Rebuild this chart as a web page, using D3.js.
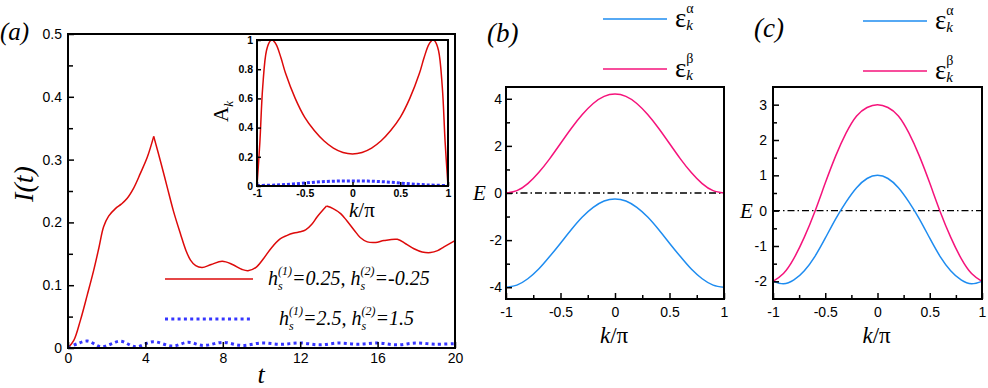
<!DOCTYPE html>
<html>
<head>
<meta charset="utf-8">
<script src="https://cdn.jsdelivr.net/npm/d3@7"></script>
<style>
body { margin: 0; background: #fff; }
</style>
</head>
<body>
<div id="chart"></div>
<script>
// (a) I(t), weak fields (red) and strong fields (blue dots)
var tWeak = [0,0.3,0.64,1.0,1.33,1.6,1.84,2.1,2.45,2.75,3.05,3.4,3.74,4.1,4.43,4.8,5.12,5.45,5.81,6.1,6.33,6.6,6.93,7.4,7.97,8.5,9.0,9.3,9.7,10.12,10.5,10.98,11.3,11.67,12.0,12.28,12.6,12.88,13.36,13.7,14.09,14.4,14.78,15.1,15.47,15.9,16.33,17.02,17.45,17.88,18.3,18.74,19.1,19.43,20];
var iWeak = [0,0.012,0.044,0.085,0.124,0.16,0.193,0.21,0.222,0.229,0.238,0.255,0.278,0.304,0.337,0.295,0.257,0.218,0.182,0.155,0.14,0.131,0.128,0.133,0.138,0.133,0.125,0.123,0.128,0.143,0.159,0.174,0.179,0.183,0.185,0.188,0.197,0.209,0.226,0.222,0.214,0.203,0.188,0.176,0.169,0.168,0.171,0.173,0.166,0.158,0.153,0.152,0.155,0.161,0.171];
var cuspTimes = [4.43, 13.36];
var tStrong = [0,0.5,1.0,1.7,2.2,2.7,3.5,4.4,5.4,6.2,7.0,8.0,9.0,10.0,11.0,12.0,13.0,14.0,15.0,16.0,17.0,18.0,19.0,20.0];
var iStrong = [0,0.007,0.011,0.002,0.006,0.011,0.002,0.010,0.003,0.009,0.004,0.009,0.004,0.008,0.006,0.008,0.005,0.008,0.006,0.008,0.005,0.008,0.006,0.007];

// inset A_k
var kInset = [-1,-0.97,-0.94,-0.9,-0.86,-0.84,-0.8,-0.75,-0.7,-0.6,-0.5,-0.4,-0.3,-0.2,-0.1,0,0.1,0.2,0.3,0.4,0.5,0.6,0.7,0.75,0.8,0.84,0.86,0.9,0.94,0.97,1];
var akWeak = [0,0.3,0.68,0.93,0.995,1,0.97,0.88,0.77,0.6,0.47,0.38,0.31,0.26,0.23,0.22,0.23,0.26,0.31,0.38,0.47,0.6,0.77,0.88,0.97,1,0.995,0.93,0.68,0.3,0];
var kInsetStrong = [-1,-0.8,-0.6,-0.4,-0.2,0,0.2,0.4,0.6,0.8,1];
var akStrong = [0.003,0.007,0.015,0.026,0.033,0.035,0.033,0.026,0.015,0.007,0.003];

// (b), (c) bands
var kBand = [-1,-0.9,-0.8,-0.7,-0.6,-0.5,-0.4,-0.3,-0.2,-0.1,0,0.1,0.2,0.3,0.4,0.5,0.6,0.7,0.8,0.9,1];
var alphaB = [-4,-3.91,-3.64,-3.23,-2.70,-2.13,-1.55,-1.02,-0.61,-0.34,-0.25,-0.34,-0.61,-1.02,-1.55,-2.13,-2.70,-3.23,-3.64,-3.91,-4];
var betaB = [0,0.10,0.40,0.87,1.45,2.10,2.75,3.33,3.80,4.10,4.20,4.10,3.80,3.33,2.75,2.10,1.45,0.87,0.40,0.10,0];
var alphaC = [-2.0,-2.07,-1.96,-1.70,-1.30,-0.78,-0.23,0.25,0.65,0.91,1.0,0.91,0.65,0.25,-0.23,-0.78,-1.30,-1.70,-1.96,-2.07,-2.0];
var betaC = [-2.0,-1.78,-1.35,-0.75,-0.03,0.78,1.55,2.20,2.68,2.92,3.0,2.92,2.68,2.20,1.55,0.78,-0.03,-0.75,-1.35,-1.78,-2.0];

var tTicks = [0,4,8,12,16,20];
var iTicks = [0,0.1,0.2,0.3,0.4,0.5];
var iMinor = [0.05,0.15,0.25,0.35,0.45];
var kTicks = [-1,-0.5,0,0.5,1];
var kMinor = [-0.75,-0.25,0.25,0.75];
var akTicks = [0,0.2,0.4,0.6,0.8,1];
var eTicksB = [-4,-2,0,2,4];
var eMinorB = [-3,-1,1,3];
var eTicksC = [-2,-1,0,1,2,3];
var eMinorC = [-1.5,-0.5,0.5,1.5,2.5];

var red = '#dd0a0a', dotBlue = '#3636ff', blue = '#1e8cf0', pink = '#f5137b';
var serif = '"Liberation Serif","Times New Roman",serif';
var sans = '"Liberation Sans", Arial, sans-serif';

var svg = d3.select('#chart').append('svg')
    .attr('width', 988)
    .attr('height', 388)
    .attr('font-family', sans);

// text made of pieces; a piece with stack:true starts where the previous one started
function rich(g, x, y, parts) {
    var cursor = x, prevStart = x;
    parts.forEach(function(p) {
        var px = p.stack ? prevStart : cursor;
        var t = g.append('text')
            .attr('x', px)
            .attr('y', y + (p.dy || 0))
            .attr('font-family', p.sans ? sans : serif)
            .attr('font-style', p.it ? 'italic' : 'normal')
            .attr('font-size', p.size)
            .text(p.s);
        var w = t.node().getComputedTextLength();
        prevStart = px;
        cursor = Math.max(cursor, px + w);
    });
    return cursor - x;
}

function frame(x, y, w) {
    svg.append('rect')
        .attr('x', x.range()[0])
        .attr('y', y.range()[1])
        .attr('width', x.range()[1] - x.range()[0])
        .attr('height', y.range()[0] - y.range()[1])
        .attr('fill', 'none')
        .attr('stroke', '#000')
        .attr('stroke-width', w);
}

function axes(x, y, o) {
    var gx = svg.append('g')
        .attr('transform', 'translate(0,' + y.range()[0] + ')')
        .call(d3.axisBottom(x).tickValues(o.xt).tickSizeInner(-o.len).tickSizeOuter(0)
            .tickPadding(o.padX).tickFormat(function(d) { return String(d); }));
    var gy = svg.append('g')
        .attr('transform', 'translate(' + x.range()[0] + ',0)')
        .call(d3.axisLeft(y).tickValues(o.yt).tickSizeInner(-o.len).tickSizeOuter(0)
            .tickPadding(o.padY).tickFormat(function(d) { return String(d); }));
    [gx, gy].forEach(function(g) {
        g.select('.domain').remove();
        g.attr('font-size', o.size)
            .attr('font-family', sans)
            .attr('font-weight', o.bold ? 'bold' : 'normal');
        g.selectAll('line').attr('stroke-width', o.tw);
    });
    if (o.xm) {
        var mx = svg.append('g')
            .attr('transform', 'translate(0,' + y.range()[0] + ')')
            .call(d3.axisBottom(x).tickValues(o.xm).tickSizeInner(-o.mlen).tickSizeOuter(0).tickFormat(''));
        mx.select('.domain').remove();
        mx.selectAll('line').attr('stroke-width', o.tw);
    }
    if (o.ym) {
        var my = svg.append('g')
            .attr('transform', 'translate(' + x.range()[0] + ',0)')
            .call(d3.axisLeft(y).tickValues(o.ym).tickSizeInner(-o.mlen).tickSizeOuter(0).tickFormat(''));
        my.select('.domain').remove();
        my.selectAll('line').attr('stroke-width', o.tw);
    }
}

function pairs(xs, ys) {
    return xs.map(function(d, i) { return [d, ys[i]]; });
}

// ---------- panel (a) ----------
var xA = d3.scaleLinear().domain([0, 20]).range([68, 455]);
var yA = d3.scaleLinear().domain([0, 0.5]).range([348, 34]);

var lineA = d3.line()
    .x(function(d) { return xA(d[0]); })
    .y(function(d) { return yA(d[1]); });

// split red curve at the cusps so the corners stay sharp
var weak = pairs(tWeak, iWeak);
var segments = [[]];
weak.forEach(function(p) {
    segments[segments.length - 1].push(p);
    if (cuspTimes.indexOf(p[0]) >= 0) segments.push([p]);
});
segments.forEach(function(seg) {
    svg.append('path')
        .attr('d', lineA.curve(d3.curveCatmullRom)(seg))
        .attr('fill', 'none')
        .attr('stroke', red)
        .attr('stroke-width', 1.5);
});

svg.append('path')
    .attr('d', lineA.curve(d3.curveCatmullRom)(pairs(tStrong, iStrong)))
    .attr('fill', 'none')
    .attr('stroke', dotBlue)
    .attr('stroke-width', 3)
    .attr('stroke-dasharray', '3,3.3');

frame(xA, yA, 2);
axes(xA, yA, { xt: tTicks, yt: iTicks, ym: iMinor, len: 6, mlen: 5, padX: 5, padY: 6, size: 14, tw: 1.5 });

// legend (a)
svg.append('line').attr('x1', 165).attr('x2', 253).attr('y1', 279).attr('y2', 279)
    .attr('stroke', red).attr('stroke-width', 1.5);
svg.append('line').attr('x1', 165).attr('x2', 253).attr('y1', 319).attr('y2', 319)
    .attr('stroke', dotBlue).attr('stroke-width', 3).attr('stroke-dasharray', '3,3.3');

var legA = svg.append('g');
rich(legA, 268, 285, [
    { s: 'h', size: 20, it: true },
    { s: 's', size: 12, it: true, dy: 5 },
    { s: '(1)', size: 12, it: true, dy: -10, stack: true },
    { s: '=0.25, h', size: 20, it: true },
    { s: 's', size: 12, it: true, dy: 5 },
    { s: '(2)', size: 12, it: true, dy: -10, stack: true },
    { s: '=-0.25', size: 20, it: true }
]);
rich(legA, 279, 325, [
    { s: 'h', size: 20, it: true },
    { s: 's', size: 12, it: true, dy: 5 },
    { s: '(1)', size: 12, it: true, dy: -10, stack: true },
    { s: '=2.5, h', size: 20, it: true },
    { s: 's', size: 12, it: true, dy: 5 },
    { s: '(2)', size: 12, it: true, dy: -10, stack: true },
    { s: '=1.5', size: 20, it: true }
]);

svg.append('text')
    .attr('transform', 'translate(33,184) rotate(-90)')
    .attr('text-anchor', 'middle')
    .attr('font-family', serif).attr('font-style', 'italic').attr('font-size', 28)
    .text('I(t)');
svg.append('text')
    .attr('x', 261).attr('y', 383)
    .attr('text-anchor', 'middle')
    .attr('font-family', serif).attr('font-style', 'italic').attr('font-size', 26)
    .text('t');
svg.append('text')
    .attr('x', 0).attr('y', 40)
    .attr('font-family', serif).attr('font-style', 'italic').attr('font-size', 25)
    .text('(a)');

// ---------- inset ----------
var xI = d3.scaleLinear().domain([-1, 1]).range([257, 448]);
var yI = d3.scaleLinear().domain([0, 1]).range([186, 40]);
var lineI = d3.line()
    .x(function(d) { return xI(d[0]); })
    .y(function(d) { return yI(d[1]); })
    .curve(d3.curveCatmullRom);

svg.append('rect').attr('x', 257).attr('y', 40).attr('width', 191).attr('height', 146).attr('fill', '#fff');
svg.append('path')
    .attr('d', lineI(pairs(kInset, akWeak)))
    .attr('fill', 'none').attr('stroke', red).attr('stroke-width', 1.5);
svg.append('path')
    .attr('d', lineI(pairs(kInsetStrong, akStrong)))
    .attr('fill', 'none').attr('stroke', dotBlue).attr('stroke-width', 3).attr('stroke-dasharray', '3,2');
frame(xI, yI, 2);
axes(xI, yI, { xt: kTicks, yt: akTicks, len: 4, padX: 4, padY: 4, size: 10.5, bold: true, tw: 1.5 });

var ak = svg.append('g').attr('transform', 'translate(228,122) rotate(-90)');
rich(ak, 0, 0, [
    { s: 'A', size: 21 },
    { s: 'k', size: 13, it: true, dy: 5 }
]);
var kpI = svg.append('g');
rich(kpI, 349, 217, [
    { s: 'k', size: 21, it: true },
    { s: '/π', size: 21 }
]);

// ---------- panel (b) ----------
var xB = d3.scaleLinear().domain([-1, 1]).range([506, 724]);
var yB = d3.scaleLinear().domain([-4.5, 4.5]).range([299, 87]);
var lineB = d3.line()
    .x(function(d) { return xB(d[0]); })
    .y(function(d) { return yB(d[1]); })
    .curve(d3.curveNatural);

svg.append('line')
    .attr('x1', xB(-1)).attr('x2', xB(1)).attr('y1', yB(0)).attr('y2', yB(0))
    .attr('stroke', '#000').attr('stroke-width', 1.3).attr('stroke-dasharray', '7,3,1.5,3');
svg.append('path').attr('d', lineB(pairs(kBand, alphaB)))
    .attr('fill', 'none').attr('stroke', blue).attr('stroke-width', 1.5);
svg.append('path').attr('d', lineB(pairs(kBand, betaB)))
    .attr('fill', 'none').attr('stroke', pink).attr('stroke-width', 1.5);
frame(xB, yB, 2);
axes(xB, yB, { xt: kTicks, xm: kMinor, yt: eTicksB, ym: eMinorB, len: 6, mlen: 4, padX: 8, padY: 4, size: 14, tw: 1.5 });

// ---------- panel (c) ----------
var xC = d3.scaleLinear().domain([-1, 1]).range([773, 982]);
var yC = d3.scaleLinear().domain([-2.5, 3.5]).range([299, 87]);
var lineC = d3.line()
    .x(function(d) { return xC(d[0]); })
    .y(function(d) { return yC(d[1]); })
    .curve(d3.curveNatural);

svg.append('line')
    .attr('x1', xC(-1)).attr('x2', xC(1)).attr('y1', yC(0)).attr('y2', yC(0))
    .attr('stroke', '#000').attr('stroke-width', 1.3).attr('stroke-dasharray', '7,3,1.5,3');
svg.append('path').attr('d', lineC(pairs(kBand, alphaC)))
    .attr('fill', 'none').attr('stroke', blue).attr('stroke-width', 1.5);
svg.append('path').attr('d', lineC(pairs(kBand, betaC)))
    .attr('fill', 'none').attr('stroke', pink).attr('stroke-width', 1.5);
frame(xC, yC, 2);
axes(xC, yC, { xt: kTicks, xm: kMinor, yt: eTicksC, ym: eMinorC, len: 6, mlen: 4, padX: 8, padY: 6, size: 14, tw: 1.5 });

// labels and legends for (b), (c)
[[xB, yB, 487, 42, '(b)', 603, 19], [xC, yC, 754, 37, '(c)', 863, 21]].forEach(function(p) {
    var x = p[0], y = p[1];
    svg.append('text')
        .attr('x', p[2]).attr('y', p[3])
        .attr('font-family', serif).attr('font-style', 'italic').attr('font-size', 27)
        .text(p[4]);
    var kp = svg.append('g');
    rich(kp, (x.range()[0] + x.range()[1]) / 2 - 15, 343, [
        { s: 'k', size: 23, it: true },
        { s: '/π', size: 23 }
    ]);
    svg.append('text')
        .attr('x', x.range()[0] - 33).attr('y', y(0) + 7)
        .attr('font-family', serif).attr('font-style', 'italic').attr('font-size', 21)
        .text('E');
    [[blue, 'α', 0], [pink, 'β', 50]].forEach(function(s) {
        var ly = p[6] + s[2];
        svg.append('line')
            .attr('x1', p[5]).attr('x2', p[5] + 64).attr('y1', ly).attr('y2', ly)
            .attr('stroke', s[0]).attr('stroke-width', 1.5);
        var lg = svg.append('g');
        rich(lg, p[5] + 72, ly + 8, [
            { s: 'ε', size: 27 },
            { s: 'k', size: 15, it: true, dy: 3 },
            { s: s[1], size: 14, dy: -14, stack: true }
        ]);
    });
});
</script>
</body>
</html>
